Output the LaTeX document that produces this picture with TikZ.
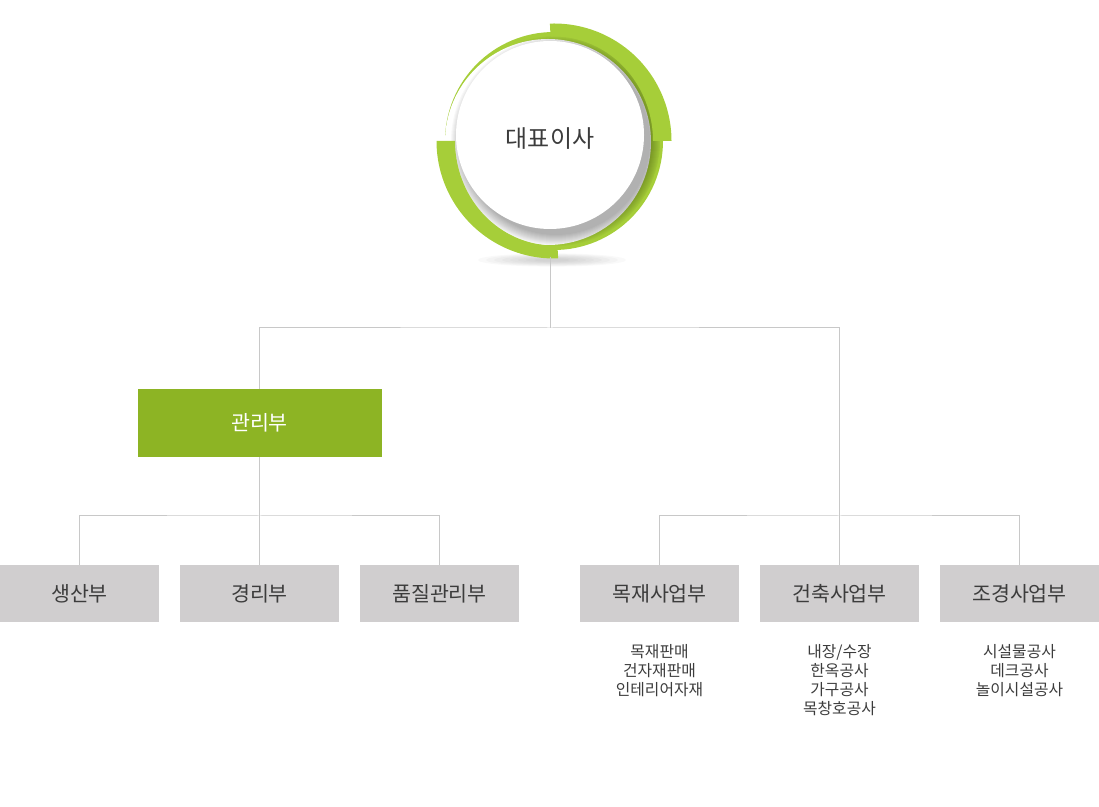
\documentclass[tikz,border=0pt]{standalone}
\usepackage{fontspec}
\setmainfont{Noto Sans CJK KR}
\usetikzlibrary{positioning,calc}
\definecolor{lime}{RGB}{166,206,57}
\definecolor{leafy}{RGB}{141,180,36}
\definecolor{stone}{RGB}{208,206,207}
\definecolor{wire}{RGB}{200,200,200}
\definecolor{ink}{RGB}{60,60,60}
\tikzset{
  dept/.style={fill=stone,text=ink,minimum width=159pt,minimum height=57pt,inner sep=0pt,
    font=\fontsize{20.6}{24}\selectfont},
  head/.style={fill=leafy,text=white,minimum width=244pt,minimum height=68pt,inner sep=0pt,
    font=\fontsize{20.6}{24}\selectfont},
  duty/.style={text=ink,align=center,anchor=north,inner sep=0pt,font=\fontsize{15.8}{19}\selectfont},
  link/.style={draw=wire,line width=1pt},
}
\begin{document}
\begin{tikzpicture}[x=1pt,y=1pt]
  \useasboundingbox (0,0) rectangle (1099,806);
  % soft floor shadow under the ring
  \foreach \i in {1,...,8} \fill[black,opacity=0.025] (552,546) ellipse ({8*\i+10} and {0.7*\i+1});
  % ring
  \fill[lime] (554,665) circle (109);
  \fill[white] (548,664) circle (103);
  \begin{scope}
    \clip (554,665) circle (106);
    \foreach \i in {0,...,11} \fill[black,opacity=0.027] (556,665) circle ({94+\i});
  \end{scope}
  \fill[white] (550,671) circle (94);
  \foreach \a in {0,180}
    \fill[lime] (554,665) ++(\a:117.5) arc[start angle=\a,end angle=\a+92,radius=117.5]
      -- ($(554,665)+(\a+92:99 and 104.5)$) arc[start angle=\a+92,end angle=\a,x radius=99,y radius=104.5] -- cycle;
  \node[circle,minimum size=235pt,inner sep=0pt,text=ink,font=\fontsize{24}{28}\selectfont] (ceo) at (550,667) {대표이사};

  \node[head] (admin) at (259.5,383) {관리부};
  \foreach \x/\n/\t in {79.5/prod/생산부,259.5/acct/경리부,439.5/qc/품질관리부,
      659.5/wood/목재사업부,839.5/build/건축사업부,1019.5/land/조경사업부}
    \node[dept] (\n) at (\x,212.5) {\t};

  \node[duty] (woodjob) at (659.5,162) {목재판매\\건자재판매\\인테리어자재};
  \node[duty] (buildjob) at (839.5,162) {내장/수장\\한옥공사\\가구공사\\목창호공사};
  \node[duty] (landjob) at (1019.5,162) {시설물공사\\데크공사\\놀이시설공사};

  \coordinate (hub) at (550,478);
  \coordinate (lbar) at (259.5,290);
  \coordinate (rbar) at (839.5,290);
  \draw[link] (ceo.south) -- (hub);
  \draw[link] (admin.north) |- (hub) -| (build.north);
  \draw[link] (admin.south) -- (acct.north);
  \draw[link] (prod.north) |- (lbar) -| (qc.north);
  \draw[link] (wood.north) |- (rbar) -| (land.north);
\end{tikzpicture}
\end{document}
